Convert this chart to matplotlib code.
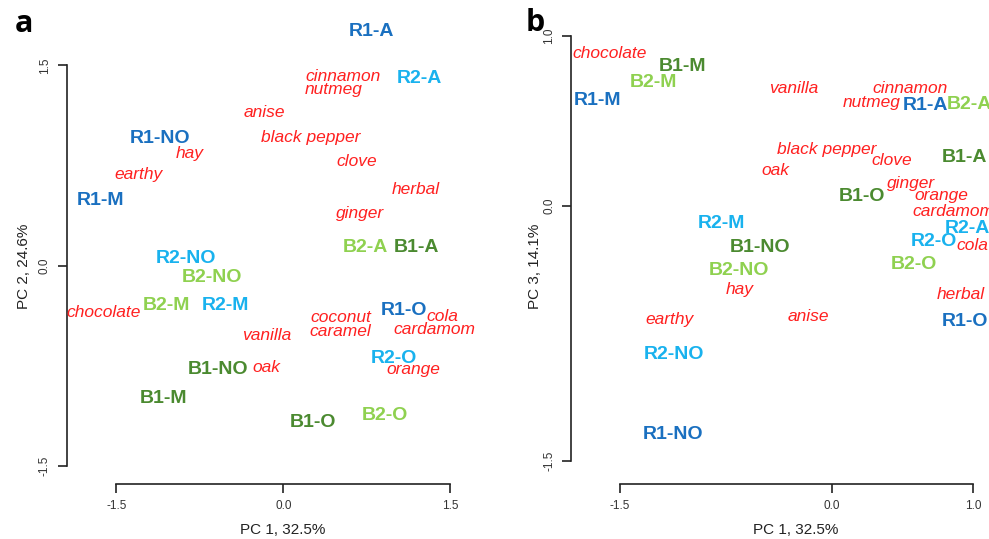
import matplotlib
matplotlib.use("Agg")
import matplotlib.pyplot as plt
from matplotlib.transforms import ScaledTranslation

plt.rcParams['font.family'] = ['Liberation Sans', 'DejaVu Sans']

W, H = 989, 539

# ---------------- data ----------------
group_colors = {"R1": "#1a70c0", "R2": "#19b2ee", "B1": "#4b8a30", "B2": "#8fd150"}
attr_color = "#ff2020"

# Panel a: PC1 vs PC2
samples_a = ["R1-A", "R2-A", "B2-A", "B1-A", "R1-NO", "R1-M", "R2-NO", "B2-NO",
             "B2-M", "R2-M", "R1-O", "R2-O", "B1-NO", "B1-M", "B1-O", "B2-O"]
samples_a_x = [0.79, 1.22, 0.74, 1.20, -1.11, -1.64, -0.87, -0.64,
               -1.05, -0.52, 1.08, 0.99, -0.59, -1.08, 0.27, 0.91]
samples_a_y = [1.77, 1.42, 0.15, 0.15, 0.97, 0.50, 0.07, -0.07,
               -0.28, -0.28, -0.32, -0.68, -0.76, -0.98, -1.16, -1.11]

attrs_a = ["cinnamon", "nutmeg", "anise", "black pepper", "clove", "herbal", "ginger",
           "hay", "earthy", "chocolate", "cola", "coconut", "caramel", "cardamom",
           "vanilla", "orange", "oak"]
attrs_a_x = [0.54, 0.45, -0.17, 0.25, 0.66, 1.19, 0.69,
             -0.84, -1.30, -1.61, 1.43, 0.52, 0.51, 1.36,
             -0.15, 1.17, -0.15]
attrs_a_y = [1.42, 1.32, 1.15, 0.96, 0.78, 0.57, 0.39,
             0.84, 0.68, -0.35, -0.38, -0.39, -0.49, -0.48,
             -0.52, -0.78, -0.76]

# Panel b: PC1 vs PC3
samples_b = ["B1-M", "B2-M", "R1-M", "R1-A", "B2-A", "B1-A", "B1-O", "R2-A",
             "R2-O", "B2-O", "R2-M", "B1-NO", "B2-NO", "R1-O", "R2-NO", "R1-NO"]
samples_b_x = [-1.06, -1.26, -1.66, 0.66, 0.975, 0.94, 0.215, 0.96,
               0.72, 0.58, -0.78, -0.51, -0.655, 0.94, -1.12, -1.12]
samples_b_y = [0.83, 0.74, 0.63, 0.60, 0.61, 0.30, 0.065, -0.12,
               -0.20, -0.33, -0.09, -0.235, -0.37, -0.67, -0.86, -1.33]

attrs_b = ["chocolate", "vanilla", "cinnamon", "nutmeg", "black pepper", "clove", "oak",
           "ginger", "orange", "cardamom", "cola", "hay", "earthy", "anise", "herbal"]
attrs_b_x = [-1.57, -0.27, 0.55, 0.28, -0.04, 0.42, -0.40,
             0.56, 0.77, 0.855, 0.995, -0.655, -1.15, -0.17, 0.91]
attrs_b_y = [0.90, 0.69, 0.69, 0.61, 0.335, 0.265, 0.21,
             0.13, 0.06, -0.03, -0.235, -0.49, -0.67, -0.65, -0.52]

xticks_a = [-1.5, 0.0, 1.5]
yticks_a = [-1.5, 0.0, 1.5]
xticks_b = [-1.5, 0.0, 1.0]
yticks_b = [-1.5, 0.0, 1.0]

# ---------------- figure ----------------
fig = plt.figure(figsize=(W / 100, H / 100), dpi=100)


def add_axes_px(left, right, top, bottom):
    return fig.add_axes([left / W, (H - bottom) / H, (right - left) / W, (bottom - top) / H])


def style_axes(ax, xticks, yticks, xlabel, xlabel_xpx, ylabel, ylabel_xpx):
    for s in ["top", "right"]:
        ax.spines[s].set_visible(False)
    for s in ["left", "bottom"]:
        ax.spines[s].set_linewidth(1.2)
        ax.spines[s].set_color("#222222")
    ax.spines["left"].set_bounds(min(yticks), max(yticks))
    ax.spines["bottom"].set_bounds(min(xticks), max(xticks))
    ax.set_xticks(xticks)
    ax.set_yticks(yticks)
    ax.set_xticklabels([f"{t:.1f}" for t in xticks])
    ax.set_yticklabels([f"{t:.1f}" for t in yticks], rotation=90, va="center")
    ax.tick_params(axis="both", length=6.5, width=1.2, color="#222222",
                   labelsize=8.5, labelcolor="#333333", pad=5)
    ax.patch.set_visible(False)
    fig.text(xlabel_xpx / W, (H - 530) / H, xlabel, ha="center",
             va="center", fontsize=11, color="#222222")
    fig.text(ylabel_xpx / W, (H - 266) / H, ylabel, rotation=90, ha="center",
             va="center", fontsize=11, color="#222222")


def draw_labels(ax, samples, sx, sy, attrs, ax_, ay):
    shift = ax.transData + ScaledTranslation(0, -2 / 100, fig.dpi_scale_trans)
    for lab, x, y in zip(attrs, ax_, ay):
        ax.text(x, y, lab, ha="center", va="center", fontsize=12.5,
                style="italic", color=attr_color, clip_on=False)
    for lab, x, y in zip(samples, sx, sy):
        ax.text(x, y, lab, ha="center", va="center", fontsize=14,
                fontweight="bold", color=group_colors[lab[:2]], clip_on=False,
                transform=shift)


# panel a
ax1 = add_axes_px(66.7, 500, 20, 484)
ax1.set_xlim(-1.946, 1.946)
ax1.set_ylim((265.7 - 484) / 133.5, (265.7 - 20) / 133.5)
style_axes(ax1, xticks_a, yticks_a, "PC 1, 32.5%", 283, "PC 2, 24.6%", 24)
draw_labels(ax1, samples_a, samples_a_x, samples_a_y, attrs_a, attrs_a_x, attrs_a_y)

# panel b
ax2 = add_axes_px(571, 1021, 20, 484)
ax2.set_xlim(-1.845, 1.336)
ax2.set_ylim((206 - 484) / 170, (206 - 20) / 170)
style_axes(ax2, xticks_b, yticks_b, "PC 1, 32.5%", 796, "PC 3, 14.1%", 535)
draw_labels(ax2, samples_b, samples_b_x, samples_b_y, attrs_b, attrs_b_x, attrs_b_y)

fig.text(24 / W, (H - 24) / H, "a", fontsize=22, fontweight="bold",
         family=["Open Sans", "DejaVu Sans"], ha="center", va="center")
fig.text(535 / W, (H - 23) / H, "b", fontsize=22, fontweight="bold",
         family=["Open Sans", "DejaVu Sans"], ha="center", va="center")

fig.savefig("out.png", dpi=100)
